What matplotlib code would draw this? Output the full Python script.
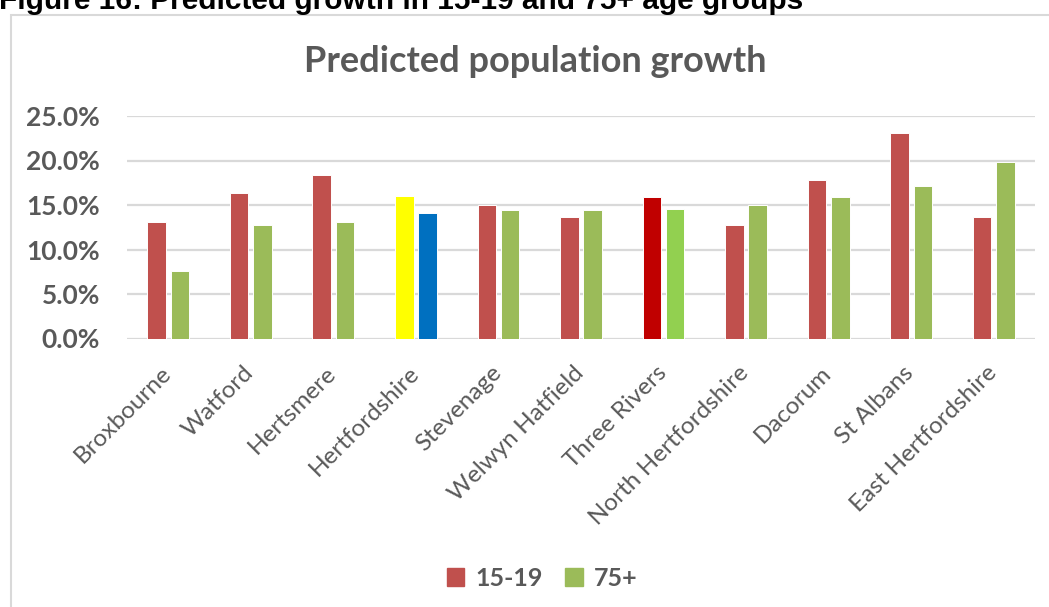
import matplotlib
matplotlib.use("Agg")
import matplotlib.pyplot as plt
import matplotlib.transforms as mtransforms
import numpy as np
from matplotlib.patches import Rectangle, Patch
from matplotlib.ticker import PercentFormatter

# data
districts = [
    "Broxbourne",
    "Watford",
    "Hertsmere",
    "Hertfordshire",
    "Stevenage",
    "Welwyn Hatfield",
    "Three Rivers",
    "North Hertfordshire",
    "Dacorum",
    "St Albans",
    "East Hertfordshire",
]
age_15_19 = [13.1, 16.4, 18.4, 16.0, 15.0, 13.6, 15.9, 12.8, 17.8, 23.1, 13.6]
age_75_plus = [7.6, 12.7, 13.1, 14.1, 14.4, 14.4, 14.5, 15.0, 15.9, 17.1, 19.8]
series_names = ["15-19", "75+"]

red, green = "#C0504D", "#9BBB59"
# highlighted bars: county total and Three Rivers
colors_a = [red] * len(districts)
colors_b = [green] * len(districts)
colors_a[3], colors_b[3] = "#FFFF00", "#0070C0"
colors_a[6], colors_b[6] = "#C00000", "#92D050"

grey = "#595959"
font = ["Lato", "DejaVu Sans"]

fig = plt.figure(figsize=(10.49, 6.07), dpi=100)

# caption cut off at the top of the picture
fig.text(-0.001, 1 - 9 / 607, "Figure 16: Predicted growth in 15-19 and 75+ age groups",
         family=["Liberation Sans"], weight="bold", fontsize=21.5, color="black",
         ha="left", va="baseline")

# chart area border
fig.patches.append(Rectangle((11 / 1049, -0.1), 1.2, 1 - 15 / 607 + 0.1,
                             transform=fig.transFigure, fill=False,
                             edgecolor="#D9D9D9", linewidth=1.5))

ax = fig.add_axes([127 / 1049, 1 - 338.5 / 607, (1035 - 127) / 1049, (338.5 - 116) / 607])
x = np.arange(len(districts))
w = 0.225
ax.bar(x - 0.141, age_15_19, w, color=colors_a, edgecolor="white", linewidth=0.7, zorder=3)
ax.bar(x + 0.141, age_75_plus, w, color=colors_b, edgecolor="white", linewidth=0.7, zorder=3)

ax.set_xlim(-0.5, len(districts) - 0.5)
ax.set_ylim(0, 25)
ax.set_yticks(np.arange(0, 26, 5))
ax.yaxis.set_major_formatter(PercentFormatter(decimals=1))
ax.grid(axis="y", color="#D9D9D9", linewidth=1.6, zorder=0)
for s in ax.spines.values():
    s.set_visible(False)
ax.tick_params(length=0)
ax.tick_params(axis="y", pad=19.5)
ax.tick_params(axis="x", pad=17)
ax.set_xticks(x)
ax.set_xticklabels(districts, rotation=45, ha="right", rotation_mode="anchor",
                   family=font, fontsize=17.5, color=grey)
shift = mtransforms.ScaledTranslation(-8 / 100, 0, fig.dpi_scale_trans)
for t in ax.get_xticklabels():
    t.set_transform(t.get_transform() + shift)
for t in ax.get_yticklabels():
    t.set_family(font)
    t.set_fontsize(19)
    t.set_fontweight("bold")
    t.set_color(grey)

fig.text(0.51, 1 - 61 / 607, "Predicted population growth", family=font, weight="bold",
         fontsize=26, color=grey, ha="center", va="center")

handles = [Patch(color=red), Patch(color=green)]
fig.legend(handles, series_names, loc="center", bbox_to_anchor=(0.517, 1 - 578 / 607),
           ncol=2, frameon=False, handlelength=0.7, handleheight=0.7,
           handletextpad=0.45, columnspacing=0.9,
           prop={"family": font, "size": 18, "weight": "bold"}, labelcolor=grey)

fig.savefig("out.png", dpi=100)
